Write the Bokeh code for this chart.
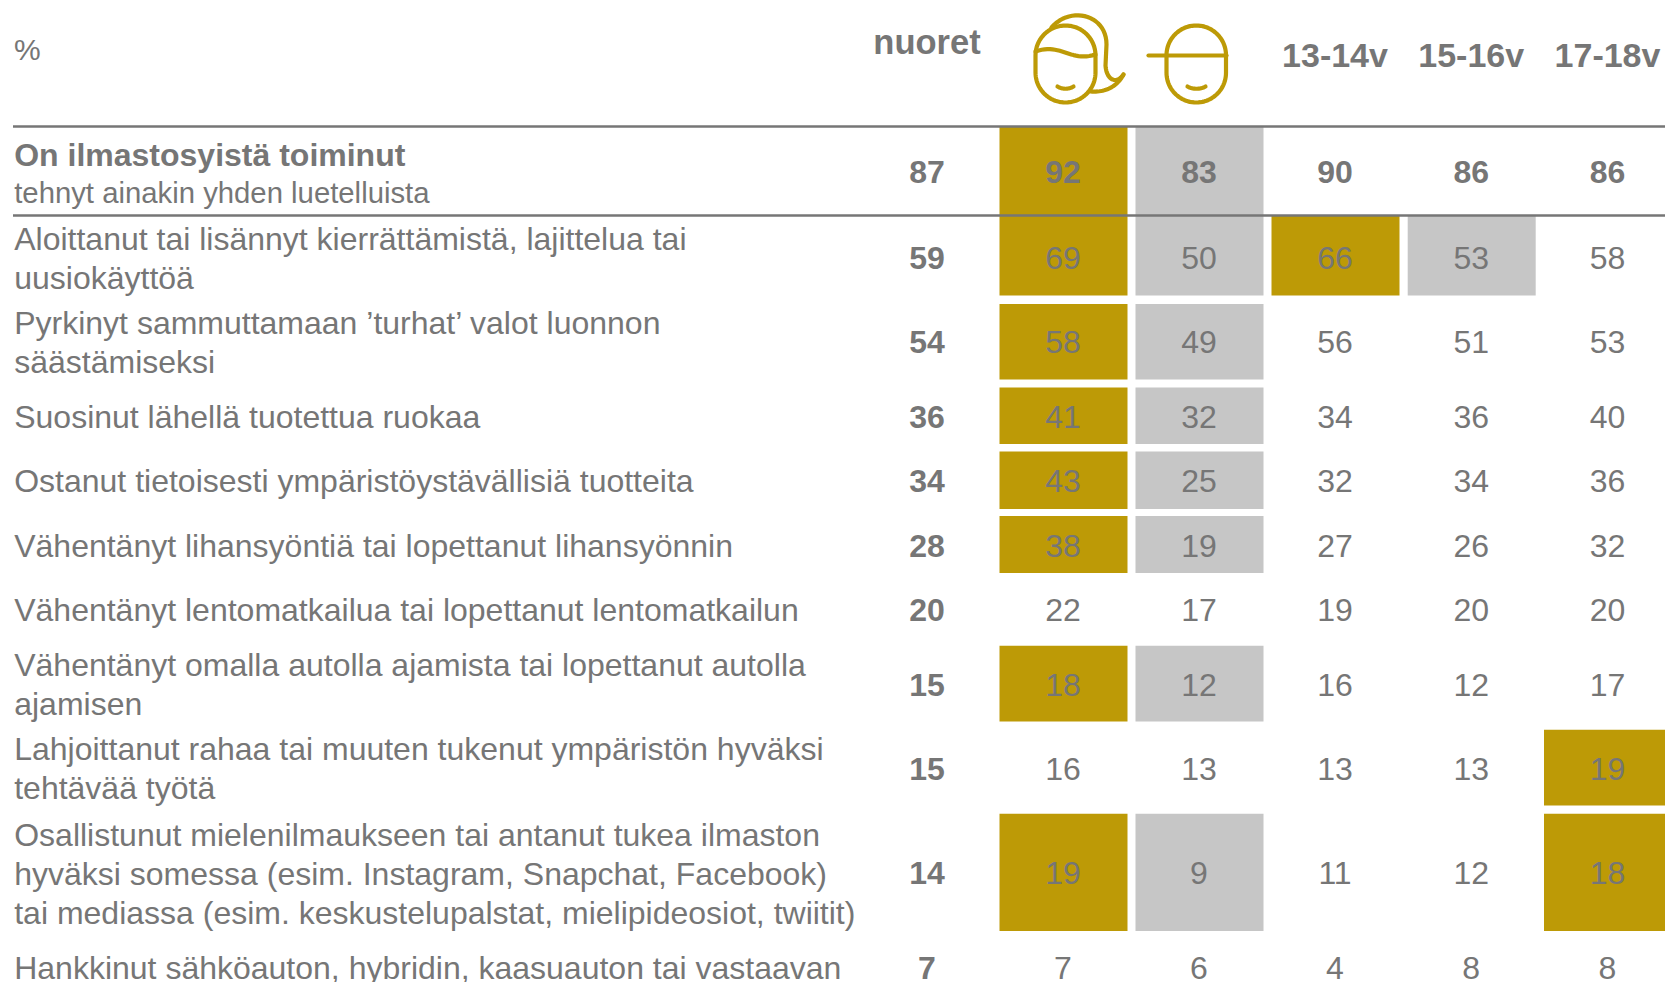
from bokeh.plotting import figure
from bokeh.embed import file_html
from bokeh.resources import INLINE
from bokeh.models import Range1d
from bokeh.core.properties import value
import numpy as np

groups = ["nuoret", "", "", "13-14v", "15-16v", "17-18v"]
head1 = "On ilmastosyistä toiminut"
head2 = "tehnyt ainakin yhden luetelluista"
labels = [
    [],
    ["Aloittanut tai lisännyt kierrättämistä, lajittelua tai", "uusiokäyttöä"],
    ["Pyrkinyt sammuttamaan ’turhat’ valot luonnon", "säästämiseksi"],
    ["Suosinut lähellä tuotettua ruokaa"],
    ["Ostanut tietoisesti ympäristöystävällisiä tuotteita"],
    ["Vähentänyt lihansyöntiä tai lopettanut lihansyönnin"],
    ["Vähentänyt lentomatkailua tai lopettanut lentomatkailun"],
    ["Vähentänyt omalla autolla ajamista tai lopettanut autolla", "ajamisen"],
    ["Lahjoittanut rahaa tai muuten tukenut ympäristön hyväksi", "tehtävää työtä"],
    ["Osallistunut mielenilmaukseen tai antanut tukea ilmaston", "hyväksi somessa (esim. Instagram, Snapchat, Facebook)", "tai mediassa (esim. keskustelupalstat, mielipideosiot, twiitit)"],
    ["Hankkinut sähköauton, hybridin, kaasuauton tai vastaavan"],
]
nuoret = [87, 59, 54, 36, 34, 28, 20, 15, 15, 14, 7]
tytot = [92, 69, 58, 41, 43, 38, 22, 18, 16, 19, 7]
pojat = [83, 50, 49, 32, 25, 19, 17, 12, 13, 9, 6]
age13 = [90, 66, 56, 34, 32, 27, 19, 16, 13, 11, 4]
age15 = [86, 53, 51, 36, 34, 26, 20, 12, 13, 12, 8]
age17 = [86, 58, 53, 40, 36, 32, 20, 17, 19, 18, 8]
# highlight: 0 none, 1 gold, 2 grey
hl_tytot = [1, 1, 1, 1, 1, 1, 0, 1, 0, 1, 0]
hl_pojat = [2, 2, 2, 2, 2, 2, 0, 2, 0, 2, 0]
hl_age13 = [0, 1, 0, 0, 0, 0, 0, 0, 0, 0, 0]
hl_age15 = [0, 2, 0, 0, 0, 0, 0, 0, 0, 0, 0]
hl_age17 = [0, 0, 0, 0, 0, 0, 0, 0, 1, 1, 0]

row_top = [126.5, 215, 303.5, 387, 451, 515.5, 581, 645.3, 729.3, 813.3, 938]
row_bot = [215, 295, 379, 443.5, 508.5, 572.5, 638, 721, 805, 930.5, 996]
label_shift = [0, 3, 1, 1, 0.6, 1, 0, 1, 1, 1.4, 0]
value_shift = [0, 2, 0, 1, 0.6, 1, 0, 1, 1, 0.6, 0]
col_x = [927, 1063, 1199, 1335, 1471.2, 1607.5]
text_dx = -0.5
CW = 128
GOLD, GREY, TXT, RULE = "#BD9A06", "#C6C6C6", "#767676", "#767676"
FONT = value("Liberation Sans")
FS = "32px"

p = figure(width=1665, height=982, x_range=Range1d(0, 1665), y_range=Range1d(982, 0),
           output_backend="svg", toolbar_location=None, min_border=0)
p.axis.visible = False
p.grid.visible = False
p.outline_line_color = None

cols = [(tytot, hl_tytot, 1), (pojat, hl_pojat, 2), (age13, hl_age13, 3), (age15, hl_age15, 4), (age17, hl_age17, 5)]
L, R, T, B, C = [], [], [], [], []
for vals, hl, ci in cols:
    for r, h in enumerate(hl):
        if h:
            L.append(col_x[ci] - CW / 2); R.append(col_x[ci] + CW / 2)
            T.append(row_top[r]); B.append(row_bot[r]); C.append(GOLD if h == 1 else GREY)
p.quad(left=L, right=R, top=T, bottom=B, fill_color=C, line_color=None)

p.segment(x0=[12.5, 12.5], x1=[1665, 1665], y0=[126, 215], y1=[126, 215], line_color=RULE, line_width=2.5)

def txt(x, y, s, size=FS, bold=False, align="left"):
    p.text(x=[v + text_dx for v in x], y=y, text=s, text_font=FONT, text_font_size=size, text_color=TXT,
           text_font_style="bold" if bold else "normal", text_align=align, text_baseline="middle")

# left labels
LH = 39
X, Y, S = [], [], []
for r, lines in enumerate(labels):
    cy = (row_top[r] + row_bot[r]) / 2 + label_shift[r]
    for i, l in enumerate(lines):
        X.append(14.2); Y.append(cy + (i - (len(lines) - 1) / 2) * LH); S.append(l)
txt(X, Y, S)
txt([14.2], [154], [head1], size="32px", bold=True)
txt([14.2], [191.5], [head2], size="29.3px")
txt([14], [49], ["%"], size="30px")

# values
cys = [(row_top[r] + row_bot[r]) / 2 + value_shift[r] for r in range(len(nuoret))]
cys[0] = 171
txt([col_x[0]] * len(nuoret), cys, [str(v) for v in nuoret], bold=True, align="center")
for vals, hl, ci in cols:
    txt([col_x[ci]] * (len(vals) - 1), cys[1:], [str(v) for v in vals[1:]], align="center")
    txt([col_x[ci]], [cys[0]], [str(vals[0])], bold=True, align="center")
txt([col_x[0]], [41.5], [groups[0]], size="34.5px", bold=True, align="center")
for ci in (3, 4, 5):
    txt([col_x[ci]], [54], [groups[ci]], size="34px", bold=True, align="center")

# icons
def bez(a, b, c, d, n=24):
    t = np.linspace(0, 1, n)[:, None]
    a, b, c, d = map(np.array, (a, b, c, d))
    return (1 - t) ** 3 * a + 3 * (1 - t) ** 2 * t * b + 3 * (1 - t) * t ** 2 * c + t ** 3 * d

def stroke(*segs):
    pts = np.vstack(segs)
    p.line(pts[:, 0], pts[:, 1], line_color=GOLD, line_width=4.2, line_cap="round", line_join="round")

def stadium(x0, x1, y0, y1):
    r = (x1 - x0) / 2; k = 0.5523 * r; m = (x0 + x1) / 2
    stroke(bez((x0, y0 + r), (x0, y0 + r - k), (m - k, y0), (m, y0)),
           bez((m, y0), (m + k, y0), (x1, y0 + r - k), (x1, y0 + r)),
           np.array([[x1, y1 - r]]),
           bez((x1, y1 - r), (x1, y1 - r + k), (m + k, y1), (m, y1)),
           bez((m, y1), (m - k, y1), (x0, y1 - r + k), (x0, y1 - r)),
           np.array([[x0, y0 + r]]))

stadium(1035, 1095, 25, 102)
stroke(bez((1035, 51), (1060, 42), (1070, 62), (1095, 54)))
stroke(bez((1057, 86), (1062, 89), (1068, 89), (1073, 86)))
stroke(bez((1051, 27), (1070, 5), (1106, 14), (1106, 44)), np.array([[1105, 65]]),
       bez((1105, 65), (1106, 80), (1116, 84), (1123, 74)))
stroke(bez((1123, 74), (1116, 87), (1104, 92), (1090, 91)))
stadium(1166, 1225.5, 25, 102)
stroke(np.array([[1148, 55], [1226, 55]]))
stroke(bez((1187, 86), (1192, 89), (1200, 89), (1205, 86)))

open("out.html", "w").write(file_html(p, INLINE))
